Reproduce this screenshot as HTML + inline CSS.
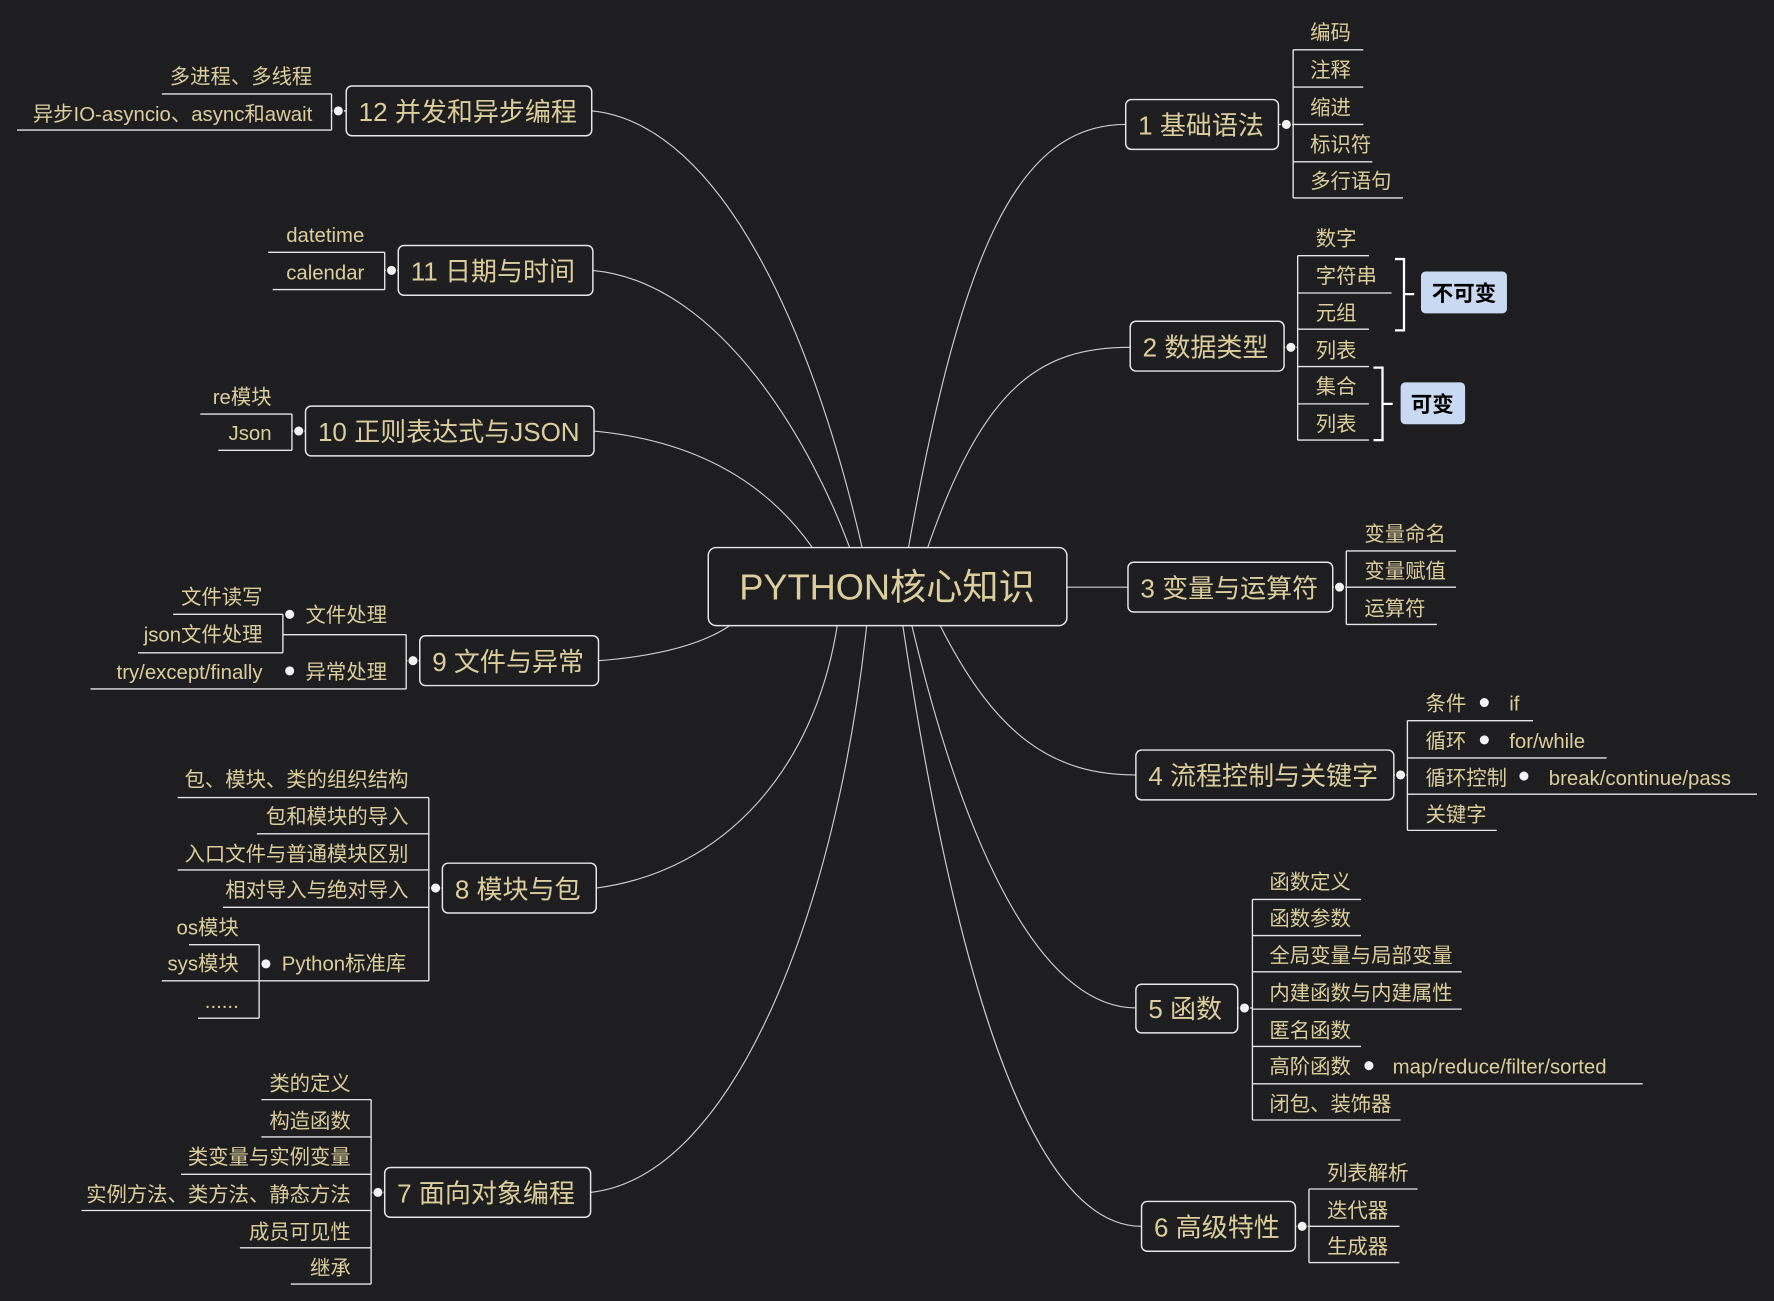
<!DOCTYPE html>
<html><head><meta charset="utf-8"><style>
html,body{margin:0;padding:0;background:#1e1e20;}
svg{display:block}
text{font-family:"Liberation Sans","Noto Sans CJK SC",sans-serif;fill:#dccd9c;}
.l{font-size:18px}
.n{font-size:23px}
.ln{stroke:#e6e6e6;stroke-width:1.2;fill:none}
.c{stroke:#cfcfcf;stroke-width:1;fill:none}
.b{stroke:#e6e6e6;stroke-width:1.3;fill:#1e1e20}
.d{fill:#f2f2f2;stroke:#1e1e20;stroke-width:1}
.e{text-anchor:end}
</style></head><body>
<svg width="1774" height="1301" viewBox="0 0 1568 1150" xmlns="http://www.w3.org/2000/svg">
<rect width="1568" height="1150" fill="#1e1e20"/>
<path class="c" d="M803,484 C850,220 900,110 995,110"/>
<path class="c" d="M820,484 C870,340 920,307 999,307"/>
<path class="c" d="M943,519 L997,519"/>
<path class="c" d="M831,553 C880,650 930,685 1004,685"/>
<path class="c" d="M806,553 C860,780 930,891 1004,891"/>
<path class="c" d="M798,553 C850,900 920,1084 1009,1084"/>
<path class="c" d="M523,98 C640,110 720,300 762,484"/>
<path class="c" d="M524,239 C640,250 720,400 751,484"/>
<path class="c" d="M525,381 C620,390 680,430 718,484"/>
<path class="c" d="M529,584 C580,580 620,570 645,553"/>
<path class="c" d="M527,785 C640,770 720,680 740,553"/>
<path class="c" d="M522,1054 C650,1040 740,800 766,553"/>

<rect class="b" x="626" y="484" width="317" height="69" rx="7"/>
<text x="784" y="530" text-anchor="middle" style="font-size:32px">PYTHON核心知识</text>

<rect class="b" x="995" y="88" width="135" height="44" rx="5"/>
<text class="n" x="1006" y="119">1 基础语法</text>
<path class="ln" d="M1130,110 H1143 M1143,44 V175 M1143,44 H1205 M1143,77 H1205 M1143,110 H1205 M1143,143 H1213 M1143,175 H1240"/>
<circle class="d" cx="1137" cy="110" r="4.5"/>
<text class="l" x="1158" y="35">编码</text>
<text class="l" x="1158" y="68">注释</text>
<text class="l" x="1158" y="101">缩进</text>
<text class="l" x="1158" y="134">标识符</text>
<text class="l" x="1158" y="166">多行语句</text>

<rect class="b" x="999" y="284" width="136" height="44" rx="5"/>
<text class="n" x="1010" y="315">2 数据类型</text>
<path class="ln" d="M1135,307 H1147 M1147,226 V389 M1147,226 H1210 M1147,259 H1230 M1147,291 H1210 M1147,324 H1210 M1147,357 H1210 M1147,389 H1210"/>
<circle class="d" cx="1141" cy="307" r="4.5"/>
<text class="l" x="1163" y="217">数字</text>
<text class="l" x="1163" y="250">字符串</text>
<text class="l" x="1163" y="283">元组</text>
<text class="l" x="1163" y="316">列表</text>
<text class="l" x="1163" y="348">集合</text>
<text class="l" x="1163" y="381">列表</text>
<path d="M1233,229 H1241 V292 H1233 M1241,260 H1250" stroke="#fff" stroke-width="2" fill="none"/>
<rect x="1256" y="240" width="76" height="37" rx="4" fill="#c8d9f1"/>
<text x="1294" y="266" text-anchor="middle" style="font-size:19px;font-weight:bold;fill:#000">不可变</text>
<path d="M1214,325 H1222 V389 H1214 M1222,357 H1231" stroke="#fff" stroke-width="2" fill="none"/>
<rect x="1238" y="338" width="57" height="37" rx="4" fill="#c8d9f1"/>
<text x="1266" y="364" text-anchor="middle" style="font-size:19px;font-weight:bold;fill:#000">可变</text>

<rect class="b" x="997" y="497" width="181" height="44" rx="5"/>
<text class="n" x="1008" y="528">3 变量与运算符</text>
<path class="ln" d="M1178,519 H1190 M1190,487 V552 M1190,487 H1287 M1190,519 H1287 M1190,552 H1270"/>
<circle class="d" cx="1184" cy="519" r="4.5"/>
<text class="l" x="1206" y="478">变量命名</text>
<text class="l" x="1206" y="511">变量赋值</text>
<text class="l" x="1206" y="544">运算符</text>

<rect class="b" x="1004" y="663" width="228" height="44" rx="5"/>
<text class="n" x="1015" y="694">4 流程控制与关键字</text>
<path class="ln" d="M1232,685 H1244 M1244,637 V734 M1244,637 H1355 M1244,670 H1420 M1244,702 H1553 M1244,734 H1323"/>
<circle class="d" cx="1238" cy="685" r="4.5"/>
<text class="l" x="1260" y="628">条件</text><circle class="d" cx="1312" cy="621" r="4.5"/><text class="l" x="1334" y="628">if</text>
<text class="l" x="1260" y="661">循环</text><circle class="d" cx="1312" cy="654" r="4.5"/><text class="l" x="1334" y="661">for/while</text>
<text class="l" x="1260" y="694">循环控制</text><circle class="d" cx="1347" cy="686" r="4.5"/><text class="l" x="1369" y="694">break/continue/pass</text>
<text class="l" x="1260" y="726">关键字</text>

<rect class="b" x="1004" y="870" width="90" height="43" rx="5"/>
<text class="n" x="1015" y="900">5 函数</text>
<path class="ln" d="M1094,891 H1107 M1107,795 V990 M1107,795 H1203 M1107,827 H1203 M1107,859 H1292 M1107,892 H1292 M1107,925 H1203 M1107,958 H1452 M1107,990 H1238"/>
<circle class="d" cx="1100" cy="891" r="4.5"/>
<text class="l" x="1122" y="786">函数定义</text>
<text class="l" x="1122" y="818">函数参数</text>
<text class="l" x="1122" y="851">全局变量与局部变量</text>
<text class="l" x="1122" y="884">内建函数与内建属性</text>
<text class="l" x="1122" y="917">匿名函数</text>
<text class="l" x="1122" y="949">高阶函数</text><circle class="d" cx="1210" cy="942" r="4.5"/><text class="l" x="1231" y="949">map/reduce/filter/sorted</text>
<text class="l" x="1122" y="982">闭包、装饰器</text>

<rect class="b" x="1009" y="1062" width="136" height="44" rx="5"/>
<text class="n" x="1020" y="1093">6 高级特性</text>
<path class="ln" d="M1145,1084 H1157 M1157,1051 V1116 M1157,1051 H1253 M1157,1084 H1237 M1157,1116 H1237"/>
<circle class="d" cx="1151" cy="1084" r="4.5"/>
<text class="l" x="1173" y="1043">列表解析</text>
<text class="l" x="1173" y="1076">迭代器</text>
<text class="l" x="1173" y="1108">生成器</text>

<rect class="b" x="306" y="76" width="217" height="44" rx="5"/>
<text class="n" x="317" y="107">12 并发和异步编程</text>
<path class="ln" d="M306,98 H293 M293,83 V115 M293,83 H143 M293,115 H15"/>
<circle class="d" cx="299" cy="98" r="4.5"/>
<text class="l e" x="276" y="74">多进程、多线程</text>
<text class="l e" x="276" y="107">异步IO-asyncio、async和await</text>

<rect class="b" x="352" y="217" width="172" height="44" rx="5"/>
<text class="n" x="363" y="248">11 日期与时间</text>
<path class="ln" d="M352,239 H340 M340,223 V256 M340,223 H237 M340,256 H241"/>
<circle class="d" cx="346" cy="239" r="4.5"/>
<text class="l e" x="322" y="214">datetime</text>
<text class="l e" x="322" y="247">calendar</text>

<rect class="b" x="270" y="359" width="255" height="44" rx="5"/>
<text class="n" x="281" y="390">10 正则表达式与JSON</text>
<path class="ln" d="M270,381 H258 M258,366 V398 M258,366 H177 M258,398 H193"/>
<circle class="d" cx="264" cy="381" r="4.5"/>
<text class="l e" x="240" y="357">re模块</text>
<text class="l e" x="240" y="389">Json</text>

<rect class="b" x="371" y="562" width="158" height="44" rx="5"/>
<text class="n" x="382" y="593">9 文件与异常</text>
<path class="ln" d="M371,584 H359 M359,561 V609 M359,561 H250 M359,609 H80 M250,543 V577 M250,543 H153 M250,577 H122"/>
<circle class="d" cx="365" cy="584" r="4.5"/>
<circle class="d" cx="256" cy="543" r="4.5"/>
<circle class="d" cx="256" cy="593" r="4.5"/>
<text class="l" x="270" y="550">文件处理</text>
<text class="l" x="270" y="600">异常处理</text>
<text class="l e" x="232" y="534">文件读写</text>
<text class="l e" x="232" y="567">json文件处理</text>
<text class="l e" x="232" y="600">try/except/finally</text>

<rect class="b" x="391" y="763" width="136" height="44" rx="5"/>
<text class="n" x="402" y="794">8 模块与包</text>
<path class="ln" d="M391,785 H379 M379,705 V867 M379,705 H157 M379,737 H227 M379,769 H157 M379,802 H197 M379,867 H143 M229,835 V900 M229,835 H167 M229,900 H175"/>
<circle class="d" cx="385" cy="785" r="4.5"/>
<circle class="d" cx="235" cy="852" r="4.5"/>
<text class="l e" x="361" y="695">包、模块、类的组织结构</text>
<text class="l e" x="361" y="728">包和模块的导入</text>
<text class="l e" x="361" y="761">入口文件与普通模块区别</text>
<text class="l e" x="361" y="793">相对导入与绝对导入</text>
<text class="l" x="249" y="858">Python标准库</text>
<text class="l e" x="211" y="826">os模块</text>
<text class="l e" x="211" y="858">sys模块</text>
<text class="l e" x="211" y="891">......</text>

<rect class="b" x="340" y="1032" width="182" height="44" rx="5"/>
<text class="n" x="351" y="1063">7 面向对象编程</text>
<path class="ln" d="M340,1054 H328 M328,972 V1135 M328,972 H231 M328,1005 H231 M328,1038 H160 M328,1070 H72 M328,1103 H212 M328,1135 H257"/>
<circle class="d" cx="334" cy="1054" r="4.5"/>
<text class="l e" x="310" y="964">类的定义</text>
<text class="l e" x="310" y="997">构造函数</text>
<text class="l e" x="310" y="1029">类变量与实例变量</text>
<text class="l e" x="310" y="1062">实例方法、类方法、静态方法</text>
<text class="l e" x="310" y="1095">成员可见性</text>
<text class="l e" x="310" y="1127">继承</text>
</svg>
</body></html>
